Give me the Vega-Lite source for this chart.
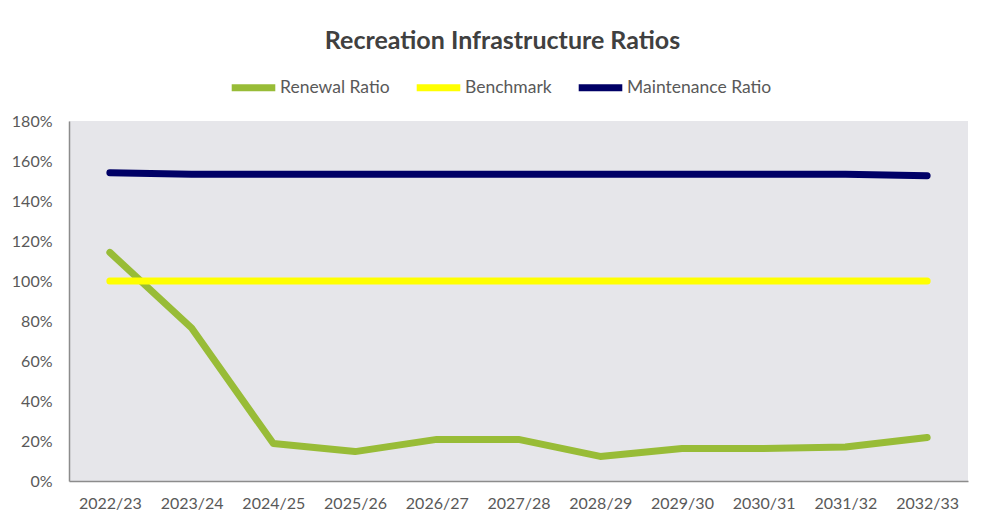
{
  "$schema": "https://vega.github.io/schema/vega-lite/v6.json",
  "width": 899,
  "height": 360,
  "autosize": {"type": "none"},
  "padding": {"left": 69, "top": 121, "right": 21, "bottom": 36},
  "background": "white",
  "title": {
    "text": "Recreation  Infrastructure Ratios",
    "font": "Lato",
    "fontSize": 25,
    "fontWeight": "bold",
    "color": "#404040",
    "anchor": "middle",
    "frame": "group",
    "dx": -16,
    "offset": 8
  },
  "config": {
    "view": {"fill": "#E6E6EA", "stroke": null},
    "axis": {
      "labelFont": "Lato",
      "labelFontSize": 16,
      "labelColor": "#595959",
      "domainColor": "#8C8C8C",
      "domainWidth": 1.5,
      "ticks": false,
      "grid": false,
      "title": null
    },
    "legend": {
      "labelFont": "Lato",
      "labelFontSize": 17.5,
      "labelColor": "#595959"
    }
  },
  "data": {
    "values": [
      {"year": "2022/23", "series": "Renewal Ratio", "value": 1.143},
      {"year": "2023/24", "series": "Renewal Ratio", "value": 0.765},
      {"year": "2024/25", "series": "Renewal Ratio", "value": 0.187},
      {"year": "2025/26", "series": "Renewal Ratio", "value": 0.147},
      {"year": "2026/27", "series": "Renewal Ratio", "value": 0.208},
      {"year": "2027/28", "series": "Renewal Ratio", "value": 0.208},
      {"year": "2028/29", "series": "Renewal Ratio", "value": 0.123},
      {"year": "2029/30", "series": "Renewal Ratio", "value": 0.162},
      {"year": "2030/31", "series": "Renewal Ratio", "value": 0.162},
      {"year": "2031/32", "series": "Renewal Ratio", "value": 0.170},
      {"year": "2032/33", "series": "Renewal Ratio", "value": 0.218},
      {"year": "2022/23", "series": "Benchmark", "value": 1.0},
      {"year": "2023/24", "series": "Benchmark", "value": 1.0},
      {"year": "2024/25", "series": "Benchmark", "value": 1.0},
      {"year": "2025/26", "series": "Benchmark", "value": 1.0},
      {"year": "2026/27", "series": "Benchmark", "value": 1.0},
      {"year": "2027/28", "series": "Benchmark", "value": 1.0},
      {"year": "2028/29", "series": "Benchmark", "value": 1.0},
      {"year": "2029/30", "series": "Benchmark", "value": 1.0},
      {"year": "2030/31", "series": "Benchmark", "value": 1.0},
      {"year": "2031/32", "series": "Benchmark", "value": 1.0},
      {"year": "2032/33", "series": "Benchmark", "value": 1.0},
      {"year": "2022/23", "series": "Maintenance Ratio", "value": 1.541},
      {"year": "2023/24", "series": "Maintenance Ratio", "value": 1.534},
      {"year": "2024/25", "series": "Maintenance Ratio", "value": 1.534},
      {"year": "2025/26", "series": "Maintenance Ratio", "value": 1.534},
      {"year": "2026/27", "series": "Maintenance Ratio", "value": 1.534},
      {"year": "2027/28", "series": "Maintenance Ratio", "value": 1.534},
      {"year": "2028/29", "series": "Maintenance Ratio", "value": 1.534},
      {"year": "2029/30", "series": "Maintenance Ratio", "value": 1.534},
      {"year": "2030/31", "series": "Maintenance Ratio", "value": 1.534},
      {"year": "2031/32", "series": "Maintenance Ratio", "value": 1.534},
      {"year": "2032/33", "series": "Maintenance Ratio", "value": 1.526}
    ]
  },
  "mark": {"type": "line", "strokeWidth": 7, "strokeCap": "round", "strokeJoin": "round"},
  "encoding": {
    "x": {
      "field": "year",
      "type": "ordinal",
      "scale": {"type": "point", "padding": 0.5},
      "axis": {"labelAngle": 0, "labelPadding": 14}
    },
    "y": {
      "field": "value",
      "type": "quantitative",
      "scale": {"domain": [0, 1.8], "nice": false},
      "axis": {"values": [0, 0.2, 0.4, 0.6, 0.8, 1.0, 1.2, 1.4, 1.6, 1.8], "format": ".0%", "labelPadding": 17}
    },
    "color": {
      "field": "series",
      "type": "nominal",
      "scale": {
        "domain": ["Renewal Ratio", "Benchmark", "Maintenance Ratio"],
        "range": ["#98BC37", "#FFFF00", "#000066"]
      },
      "legend": {
        "title": null,
        "orient": "none",
        "direction": "horizontal",
        "legendX": 159,
        "legendY": -59,
        "symbolType": "stroke",
        "symbolSize": 1900,
        "symbolStrokeWidth": 7,
        "labelOffset": 1,
        "columnPadding": 12
      }
    }
  }
}
